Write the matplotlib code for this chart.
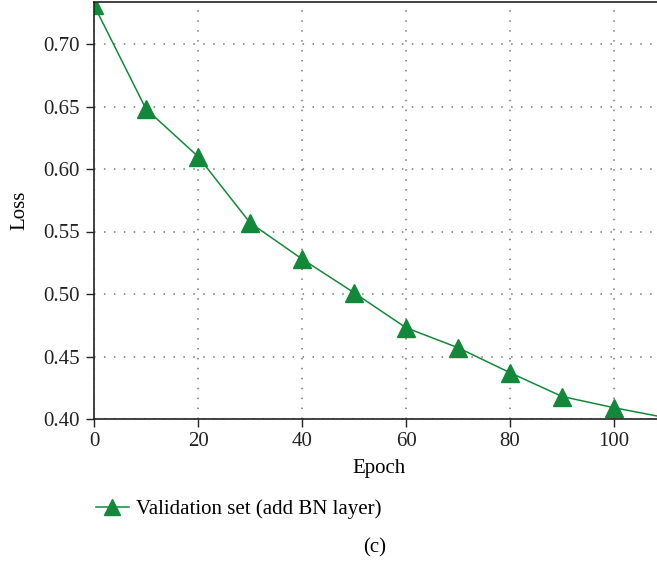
import numpy as np
import matplotlib
matplotlib.use("Agg")
import matplotlib.pyplot as plt
from matplotlib.lines import Line2D

epochs = [0, 10, 20, 30, 40, 50, 60, 70, 80, 90, 100, 110]
loss = [0.731, 0.648, 0.610, 0.557, 0.528, 0.501, 0.473, 0.457, 0.437, 0.418, 0.409, 0.401]
xticks = [0, 20, 40, 60, 80, 100]
yticks = [0.40, 0.45, 0.50, 0.55, 0.60, 0.65, 0.70]

green = '#12893a'
plt.rcParams['font.family'] = ['Liberation Serif', 'DejaVu Serif']
fs = 15

fig = plt.figure(figsize=(6.57, 5.61), dpi=100)
ax = fig.add_axes([94 / 657, 1 - 419 / 561, 1 - 94 / 657 + 0.01, (419 - 2) / 561])

ax.plot(epochs, loss, color=green, lw=1.1, marker='^', markersize=13,
        markerfacecolor=green, markeredgecolor=green, clip_on=True)

ax.set_xlim(0, 109.5)
ax.set_ylim(0.40, 0.7336)
ax.set_xticks(xticks)
ax.set_yticks(yticks)
ax.set_yticklabels(['%.2f' % v for v in yticks])
ax.grid(True, color='#777777', linestyle=(0, (1, 5.5)), linewidth=1.1)
ax.tick_params(direction='out', length=6, width=1, labelsize=fs, colors='#222222', pad=4)
ax.tick_params(axis='x', pad=3)
for s in ax.spines.values():
    s.set_linewidth(1.2)
    s.set_color('#222222')

ax.set_xlabel('Epoch', fontsize=fs, labelpad=6)
ax.set_ylabel('Loss', fontsize=fs, labelpad=10)

handle = Line2D([], [], color=green, lw=1.1, marker='^', markersize=12, markerfacecolor=green)
fig.legend([handle], ['Validation set (add BN layer)'], loc='center left',
           bbox_to_anchor=(77 / 657, 1 - 509 / 561), frameon=False, fontsize=fs,
           handlelength=1.6, handletextpad=0.35)
fig.text(375 / 657, 1 - 548 / 561, '(c)', ha='center', va='center', fontsize=fs)

fig.savefig('out.png', dpi=100)
